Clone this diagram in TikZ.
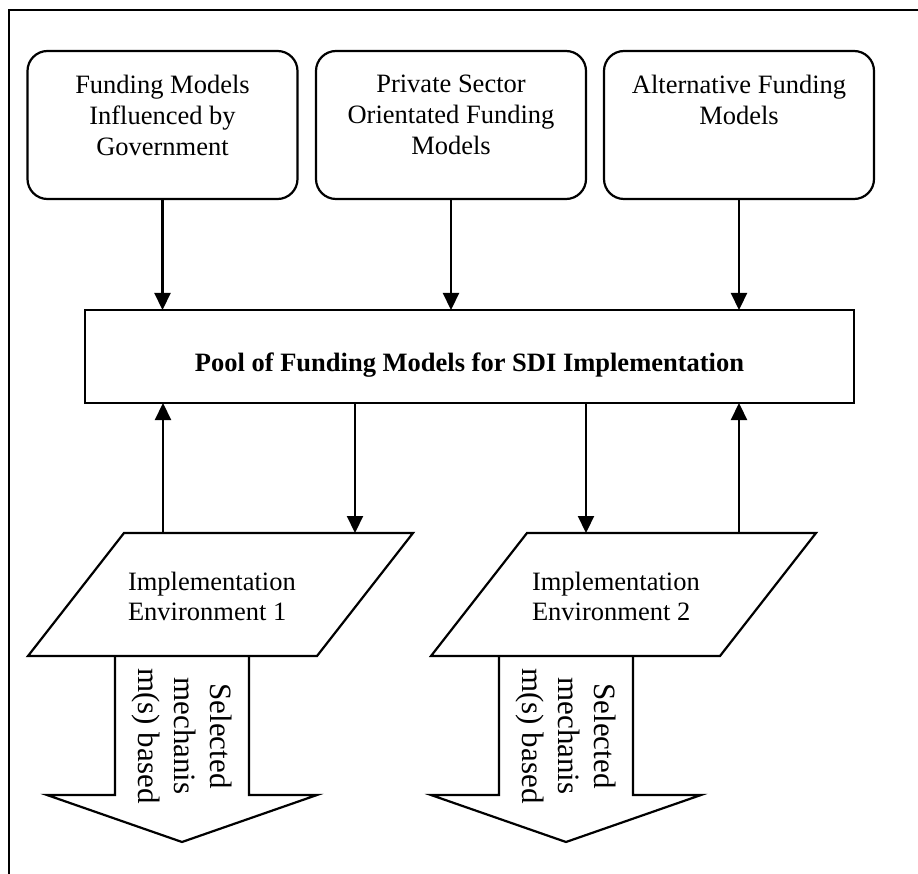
\documentclass[tikz,border=0pt]{standalone}
\usepackage{fontspec}
\setmainfont{Liberation Serif}
\usetikzlibrary{arrows.meta}
\begin{document}
\begin{tikzpicture}[x=1pt,y=-1pt,
  every node/.style={inner sep=0pt, outer sep=0pt},
  fundbox/.style={draw, line width=2.2pt, rounded corners=20pt,
    minimum width=270pt, minimum height=148pt},
  poolbox/.style={draw, line width=2.2pt, minimum width=769pt, minimum height=93pt},
  boxtext/.style={font=\fontsize{26.5}{31}\selectfont, align=center, anchor=north},
  pooltext/.style={font=\fontsize{26.5}{31}\selectfont\bfseries, anchor=base},
  envtext/.style={font=\fontsize{26.5}{30}\selectfont, align=left, anchor=north west},
  outtext/.style={font=\fontsize{31}{36}\selectfont, align=center, rotate=-90},
  flow/.style={draw, line width=2.2pt, -{Triangle[width=16pt,length=17pt]}},
  outline/.style={draw, line width=2.2pt, line join=miter}]
\useasboundingbox (0,0) rectangle (918,874);

% frame
\draw[line width=2.2pt] (918,10) -- (9,10) -- (9,874);

% source boxes
\node[fundbox] (gov) at (162.5,125) {};
\node[fundbox] (priv) at (451,125) {};
\node[fundbox] (alt) at (739,125) {};
\node[boxtext] (govt) at (162.5,75) {Funding Models\\Influenced by\\Government};
\node[boxtext] (privt) at (451,75) {Private Sector\\Orientated Funding\\Models};
\node[boxtext] (altt) at (739,75) {Alternative Funding\\Models};

% pool
\node[poolbox] (pool) at (469.5,356.5) {};
\node[pooltext] (poolt) at (469.5,371) {Pool of Funding Models for SDI Implementation};

\draw[flow] (gov.south) -- (gov.south |- pool.north);
\draw[flow] (priv.south) -- (priv.south |- pool.north);
\draw[flow] (alt.south) -- (alt.south |- pool.north);

% implementation environments
\coordinate (e1tl) at (124,533); \coordinate (e1tr) at (413,533);
\coordinate (e1br) at (317,656); \coordinate (e1bl) at (28,656);
\coordinate (e2tl) at (527,533); \coordinate (e2tr) at (816,533);
\coordinate (e2br) at (720,656); \coordinate (e2bl) at (431,656);
\draw[outline] (e1tl) -- (e1tr) -- (e1br) -- (e1bl) -- cycle;
\draw[outline] (e2tl) -- (e2tr) -- (e2br) -- (e2bl) -- cycle;
\node[envtext] (env1) at (128,572.5) {Implementation\\Environment 1};
\node[envtext] (env2) at (532,572.5) {Implementation\\Environment 2};

\coordinate (e1up) at (163,533); \coordinate (e1dn) at (355,533);
\coordinate (e2dn) at (586,533); \coordinate (e2up) at (739,533);
\draw[flow] (e1up) -- (e1up |- pool.south);
\draw[flow] (pool.south -| e1dn) -- (e1dn);
\draw[flow] (pool.south -| e2dn) -- (e2dn);
\draw[flow] (e2up) -- (e2up |- pool.south);

% selected-mechanism block arrows
\draw[outline] (115,656) -- (115,795) -- (47,795) -- (182,842) -- (317,795) -- (249,795) -- (249,656);
\draw[outline] (499,656) -- (499,795) -- (431,795) -- (566,842) -- (701,795) -- (633,795) -- (633,656);
\node[outtext] (sel1) at (182,736) {Selected\\mechanis\\m(s) based};
\node[outtext] (sel2) at (566,736) {Selected\\mechanis\\m(s) based};
\end{tikzpicture}
\end{document}
